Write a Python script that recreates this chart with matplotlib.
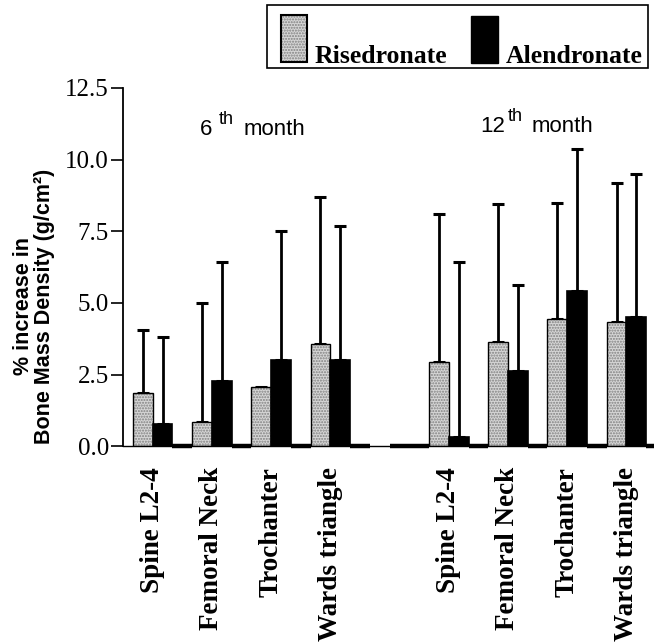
import numpy as np
import matplotlib.pyplot as plt
from matplotlib.patches import Rectangle

plt.rcParams['font.family'] = ['Liberation Serif', 'DejaVu Serif']

sites = ["Spine L2-4", "Femoral Neck", "Trochanter", "Wards triangle"]
months = ["6", "12"]

# mean % increase and upper SD, 6th month then 12th month
rise_mean = [1.85, 0.85, 2.05, 3.55, 2.95, 3.65, 4.45, 4.35]
rise_sd = [2.2, 4.15, np.nan, 5.15, 5.15, 4.8, 4.05, 4.85]
alen_mean = [0.76, 2.27, 3.0, 3.0, 0.31, 2.62, 5.4, 4.5]
alen_sd = [3.05, 4.15, 4.5, 4.7, 6.1, 3.0, 4.98, 5.0]

yticks = [0.0, 2.5, 5.0, 7.5, 10.0, 12.5]

light = '#d6d6d6'
sans = ['Liberation Sans', 'DejaVu Sans']

fig = plt.figure(figsize=(6.54, 6.42), dpi=100)
ax = fig.add_axes([0.188, 0.305, 0.809, 0.558])

# group slots: light bar, dark bar, blank; an empty group between the months
group = np.array([0, 1, 2, 3, 5, 6, 7, 8]) * 3.0
blank = np.concatenate([group + 1.5, [12.5, 13.5]])

ax.bar(group - 0.5, rise_mean, width=1, color=light, hatch='......',
       edgecolor='#808080', linewidth=0, zorder=2)
ax.bar(group - 0.5, rise_mean, width=1, fill=False, edgecolor='black',
       linewidth=1, zorder=3)
ax.bar(group + 0.5, alen_mean, width=1, color='black', edgecolor='black',
       linewidth=1.2, zorder=3)
ax.bar(blank, np.zeros(len(blank)), width=1, color='black', edgecolor='black',
       linewidth=3.2, clip_on=False, zorder=4)

zeros = np.zeros(len(group))
ax.errorbar(group - 0.5, rise_mean, yerr=[zeros, rise_sd], fmt='none',
            ecolor='black', elinewidth=2, capsize=4.3, capthick=2.2, zorder=1)
ax.errorbar(group + 0.5, alen_mean, yerr=[zeros, alen_sd], fmt='none',
            ecolor='black', elinewidth=2, capsize=4.3, capthick=2.2, zorder=1)

ax.set_xlim(-1.51, 25.3)
ax.set_ylim(0, 12.5)
ax.set_yticks(yticks)
ax.set_yticklabels(['%.1f' % t for t in yticks])
ax.set_xticks(group)
ax.set_xticklabels(sites * 2, rotation=90, fontweight='bold', fontsize=19.5)
ax.tick_params(axis='x', length=0, pad=15)
ax.tick_params(axis='y', direction='out', length=9, width=1.2, pad=1,
               labelsize=18)
for side in ['top', 'right']:
    ax.spines[side].set_visible(False)
ax.spines['left'].set_linewidth(1.3)
ax.spines['bottom'].set_linewidth(1)

ax.set_ylabel('% increase in\nBone Mass Density (g/cm²)', family=sans,
              fontweight='bold', fontsize=15.5, linespacing=1.0)
ax.yaxis.set_label_coords(-0.128, 0.39)

# month headings with superscript "th"
W, H = 654.0, 642.0
for m, x0, x1, x2, yb in [(months[0], 200, 219, 244, 135),
                          (months[1], 480, 508, 532, 132)]:
    fig.text(x0 / W, 1 - yb / H, m, family=sans, fontsize=16)
    fig.text(x1 / W, 1 - (yb - 11) / H, 'th', family=sans, fontsize=13)
    fig.text(x2 / W, 1 - yb / H, 'month', family=sans, fontsize=16)

# legend box
fig.patches.append(Rectangle((267 / W, 1 - 68 / H), 381 / W, 63 / H,
                             transform=fig.transFigure, fill=False,
                             edgecolor='black', linewidth=1.2))
fig.patches.append(Rectangle((281 / W, 1 - 62 / H), 26 / W, 47 / H,
                             transform=fig.transFigure, facecolor=light,
                             hatch='......', edgecolor='#808080', linewidth=0))
fig.patches.append(Rectangle((281 / W, 1 - 62 / H), 26 / W, 47 / H,
                             transform=fig.transFigure, fill=False,
                             edgecolor='black', linewidth=1.5))
fig.patches.append(Rectangle((471 / W, 1 - 63 / H), 27 / W, 47 / H,
                             transform=fig.transFigure, facecolor='black',
                             edgecolor='black', linewidth=1))
fig.text(315 / W, 1 - 63 / H, 'Risedronate', fontsize=18.5, fontweight='bold')
fig.text(506 / W, 1 - 63 / H, 'Alendronate', fontsize=18.5, fontweight='bold')

fig.savefig('out.png', dpi=100)
